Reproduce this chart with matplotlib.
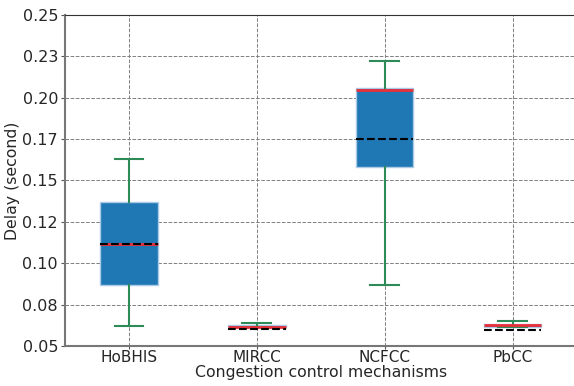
import matplotlib
matplotlib.use('Agg')
import matplotlib.pyplot as plt
from matplotlib.ticker import FormatStrFormatter

# delay stats (seconds)
mechanisms = ["HoBHIS", "MIRCC", "NCFCC", "PbCC"]
whislo = [0.0621, 0.0612, 0.0869, 0.0615]
q1 = [0.0869, 0.0615, 0.1580, 0.0615]
med = [0.1116, 0.0617, 0.2045, 0.0625]
q3 = [0.1370, 0.0627, 0.2057, 0.0635]
whishi = [0.1630, 0.0639, 0.2224, 0.0651]
means = [0.1116, 0.0605, 0.1753, 0.0598]

stats = []
for i, name in enumerate(mechanisms):
    stats.append({"label": name, "whislo": whislo[i], "q1": q1[i], "med": med[i],
                  "q3": q3[i], "whishi": whishi[i], "mean": means[i], "fliers": []})

txt = '#262626'
fig = plt.figure(figsize=(5.74, 3.86), dpi=100)
ax = fig.add_axes([65/574, 40/386, (576.5-65)/574, 331/386])

ax.bxp(stats, widths=0.45, patch_artist=True, showmeans=True, meanline=True,
       boxprops=dict(facecolor='#1f77b4', edgecolor='#a9cbe6', linewidth=1),
       whiskerprops=dict(color='seagreen', linewidth=1.5),
       capprops=dict(color='seagreen', linewidth=1.5),
       medianprops=dict(color='#e8303a', linewidth=2),
       meanprops=dict(color='black', linestyle='--', linewidth=1.5))

ax.set_xlim(0.5, 4.5)
ax.set_ylim(0.05, 0.25)
ax.set_yticks([0.05 + 0.025*k for k in range(9)])
ax.yaxis.set_major_formatter(FormatStrFormatter('%.2f'))
ax.grid(True, linestyle='--', color='gray', linewidth=0.7)
ax.set_axisbelow(True)
ax.tick_params(axis='y', labelsize=11.5, length=3, pad=2, color='#555555', labelcolor=txt)
ax.tick_params(axis='x', labelsize=11, length=2, pad=1, color='#555555', labelcolor=txt)
for s in ['left', 'bottom']:
    ax.spines[s].set_color('#777777')
    ax.spines[s].set_linewidth(1.5)
ax.spines['top'].set_color('#333333')
ax.set_xlabel("Congestion control mechanisms", fontsize=11.3, labelpad=0, color=txt)
ax.set_ylabel("Delay (second)", fontsize=11.3, labelpad=2, color=txt)

plt.savefig("out.png", dpi=100)
